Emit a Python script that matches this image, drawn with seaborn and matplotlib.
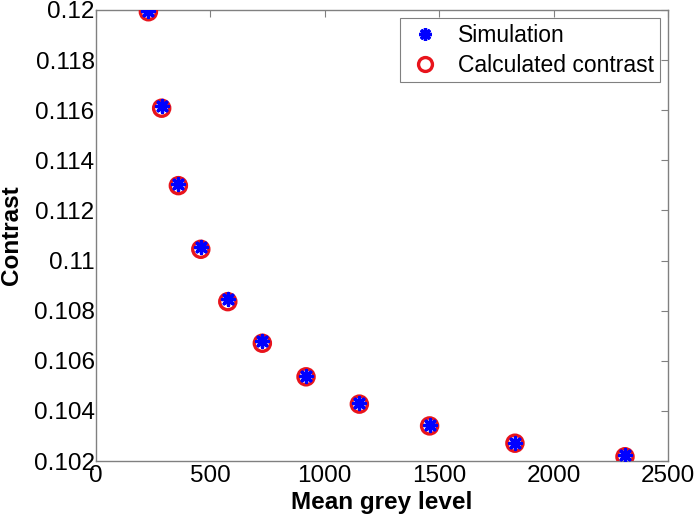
import numpy as np
import pandas as pd
import matplotlib
matplotlib.use("Agg")
import matplotlib.pyplot as plt
import seaborn as sns
from matplotlib.lines import Line2D

# values
mean_grey = [229, 287, 360, 458, 576, 727, 918, 1151, 1458, 1831, 2312]
simulation = [0.11997, 0.11615, 0.11305, 0.11055, 0.10845, 0.10678,
              0.10540, 0.10430, 0.10342, 0.10273, 0.10222]
calculated = [0.11993, 0.11608, 0.11299, 0.11045, 0.10836, 0.10670,
              0.10536, 0.10427, 0.10340, 0.10271, 0.10217]
x_ticks = [0, 500, 1000, 1500, 2000, 2500]
y_ticks = [0.102, 0.104, 0.106, 0.108, 0.11, 0.112, 0.114, 0.116, 0.118, 0.12]
y_tick_labels = ["0.102", "0.104", "0.106", "0.108", "0.11",
                 "0.112", "0.114", "0.116", "0.118", "0.12"]

sns.set_style("white")
plt.rcParams['font.family'] = ['Liberation Sans', 'DejaVu Sans']

df = pd.DataFrame({"grey": mean_grey, "sim": simulation, "calc": calculated})

fig = plt.figure(figsize=(6.96, 5.19), dpi=100)
ax = fig.add_axes([96 / 696, 1 - 461 / 519, 572 / 696, 451 / 519])

# circles first, asterisks on top
sns.scatterplot(data=df, x="grey", y="calc", ax=ax, marker="o", s=135,
                facecolor="none", edgecolor="#e8141c", linewidth=2.4, zorder=3)
sns.scatterplot(data=df, x="grey", y="sim", ax=ax, marker=(8, 2, 0), s=75,
                color="#0000ff", linewidth=2.4, zorder=4)

ax.set_xlim(0, 2500)
ax.set_ylim(0.102, 0.12)
ax.set_xticks(x_ticks)
ax.set_yticks(y_ticks)
ax.set_yticklabels(y_tick_labels)
ax.tick_params(direction="in", length=5, width=0.8, color="#808080",
               labelsize=17.5, labelcolor="black", top=True, right=True, pad=1)
ax.tick_params(axis="x", pad=3)
for sp in ax.spines.values():
    sp.set_color("#808080")
    sp.set_linewidth(1.0)

ax.set_xlabel("Mean grey level", fontsize=17.5, fontweight="bold",
              color="black", labelpad=3)
ax.set_ylabel("Contrast", fontsize=17.5, fontweight="bold", color="black")
ax.yaxis.set_label_coords(-0.127, 0.5)

handles = [
    Line2D([], [], linestyle="", marker=(8, 2, 0), color="#0000ff",
           markersize=9, markeredgewidth=2.4),
    Line2D([], [], linestyle="", marker="o", markerfacecolor="none",
           markeredgecolor="#e8141c", markersize=10, markeredgewidth=2.4),
]
leg = ax.legend(handles, ["Simulation", "Calculated contrast"], loc="upper right",
                bbox_to_anchor=(0.986, 0.982), borderaxespad=0, fontsize=16.5,
                frameon=True, fancybox=False, framealpha=1, edgecolor="#808080",
                handletextpad=0.6, borderpad=0.25, labelspacing=0.3,
                handlelength=1.7)
leg.get_frame().set_linewidth(0.8)
for t in leg.get_texts():
    t.set_color("black")

fig.savefig("out.png", dpi=100)
